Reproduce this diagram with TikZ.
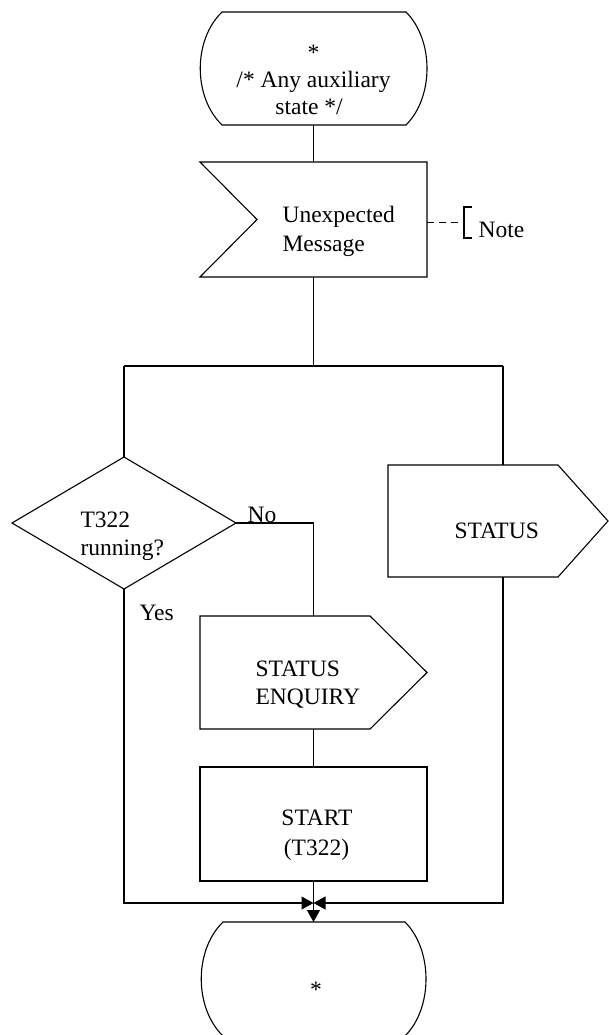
\documentclass[tikz,border=0pt]{standalone}
\usepackage{fontspec}
\setmainfont{Liberation Serif}
\usetikzlibrary{arrows.meta,calc}
\begin{document}
\begin{tikzpicture}[x=1pt,y=-1pt,
  line width=1.1pt,
  area/.style={draw=none,inner sep=0pt,outer sep=0pt,minimum width=#1},
  area/.default=227pt,
  txt/.style={inner sep=0pt,font=\fontsize{23.5}{28}\selectfont},
  lefttxt/.style={txt,anchor=base west},
  midtxt/.style={txt,anchor=base},
  fork/.style={line width=1.7pt},
  tip/.style={-{Triangle[length=12pt,width=13pt]}}]
\useasboundingbox (0,0) rectangle (609,1035);

% ---- shape frames ----
\node[area,minimum height=113pt] (st1) at (313.5,68.5) {};
\node[area,minimum height=115pt] (msg) at (313.5,219.5) {};
\node[area=224pt,minimum height=132pt] (dec) at (124,523) {};
\node[area=220pt,minimum height=112pt] (sts) at (498,521) {};
\node[area,minimum height=113pt] (enq) at (313.5,672.5) {};
\node[area,minimum height=114pt] (tmr) at (313.5,824) {};
\node[area,minimum height=114pt] (st2) at (313.5,979) {};

% ---- auxiliary points ----
\coordinate (busL) at (124,366);
\coordinate (busR) at (503,366);
\coordinate (busA) at (193,366);
\coordinate (busB) at (425,366);
\coordinate (mrg) at (313.5,903);
\coordinate (notept) at (464,222.5);

% ---- outlines ----
% state (top)
\draw ($(st1.north west)+(22,0)$) -- ($(st1.north east)+(-21,0)$)
  .. controls +(28,28) and +(28,-28) .. ($(st1.south east)+(-21,0)$)
  -- ($(st1.south west)+(22,0)$)
  .. controls +(-29,-28) and +(-29,28) .. ($(st1.north west)+(22,0)$) -- cycle;
% input signal
\draw (msg.north west) -- (msg.north east) -- (msg.south east) -- (msg.south west)
  -- ($(msg.west)+(57,0)$) -- cycle;
% decision
\draw (dec.north) -- (dec.east) -- (dec.south) -- (dec.west) -- cycle;
% output signals
\draw (sts.north west) -- ($(sts.north east)+(-50,0)$) -- (sts.east)
  -- ($(sts.south east)+(-50,0)$) -- (sts.south west) -- cycle;
\draw (enq.north west) -- ($(enq.north east)+(-57,0)$) -- (enq.east)
  -- ($(enq.south east)+(-57,0)$) -- (enq.south west) -- cycle;
% task
\draw (tmr.north west) rectangle (tmr.south east);
% state (bottom)
\draw ($(st2.north west)+(23,0)$) -- ($(st2.north east)+(-22,0)$)
  .. controls +(28,28) and +(28,-28) .. ($(st2.south east)+(-22,0)$)
  -- ($(st2.south west)+(23,0)$)
  .. controls +(-29,-28) and +(-29,28) .. ($(st2.north west)+(23,0)$) -- cycle;

% ---- texts ----
\node[midtxt] (st1a) at (313.5,61) {*};
\node[midtxt] (st1b) at (313.5,88) {/* Any auxiliary};
\node[midtxt] (st1c) at (309,115) {state */};
\node[lefttxt] (msga) at (282,222) {Unexpected};
\node[lefttxt] (msgb) at (282,251) {Message};
\node[lefttxt] (notetxt) at (478,237) {Note};
\node[lefttxt] (deca) at (80,527) {T322};
\node[lefttxt] (decb) at (80,555) {running?};
\node[lefttxt] (notxt) at (247,522) {No};
\node[lefttxt] (yestxt) at (139,620) {Yes};
\node[lefttxt] (ststxt) at (454,538) {STATUS};
\node[lefttxt] (enqa) at (255,676) {STATUS};
\node[lefttxt] (enqb) at (255,704) {ENQUIRY};
\node[midtxt] (tmra) at (317,825) {START};
\node[midtxt] (tmrb) at (316.5,855) {(T322)};
\node[midtxt] (st2a) at (316,997) {*};

% ---- note ----
\draw[dash pattern=on 7pt off 5pt] (msg.east |- notept) -- (notept);
\draw ($(notept)+(8,-15.5)$) -- ($(notept)+(0,-15.5)$) -- ($(notept)+(0,15.5)$) -- ($(notept)+(8,15.5)$);

% ---- connectors ----
\draw (st1.south) -- (msg.north);
\draw[fork] (msg.south) -- (msg.south |- busL);
\draw (busL) -- (busR);
\draw[fork] (busA) -- (busB);
\draw (busL) -- (dec.north);
\draw (busR) -- (busR |- sts.north);
\draw (dec.east) -- (dec.east -| enq.north) -- (enq.north);
\draw (enq.south) -- (tmr.north);
\draw[tip] (dec.south) -- (dec.south |- mrg) -- (mrg);
\draw[tip] (busR |- sts.south) -- (busR |- mrg) -- (mrg);
\draw[tip] (tmr.south) -- (st2.north);
\end{tikzpicture}
\end{document}
